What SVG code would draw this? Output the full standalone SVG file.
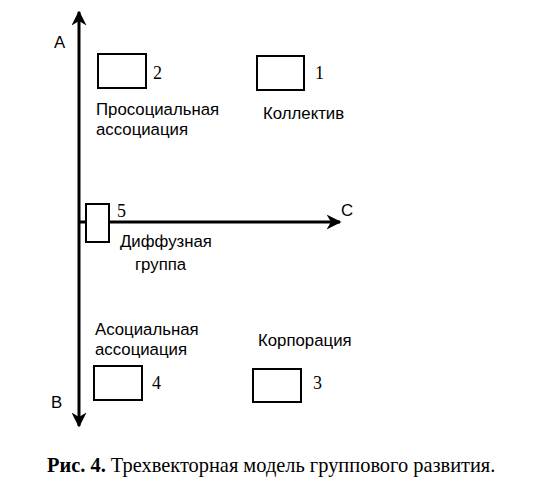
<svg xmlns="http://www.w3.org/2000/svg" width="552" height="479" viewBox="0 0 552 479">
<style>
.box{fill:#fff;stroke:#000;stroke-width:2}
.ax{stroke:#000;stroke-width:3;fill:none}
.lb{font-family:"Liberation Sans",Arial,sans-serif;font-size:16.8px;fill:#000}
.nm{font-family:"Liberation Serif","Times New Roman",serif;font-size:18px;fill:#000}
.cap{font-family:"Liberation Serif","Times New Roman",serif;font-size:20.4px;fill:#000}
</style>
<defs>
<marker id="ah" viewBox="0 0 10 10" refX="9" refY="5" markerWidth="5" markerHeight="5" orient="auto" markerUnits="strokeWidth">
<path d="M0,0 L10,5 L0,10 L3,5 z" fill="#000"/>
</marker>
</defs>
<g id="connectors">
<line class="ax" x1="79" y1="222" x2="79" y2="12" marker-end="url(#ah)"/>
<line class="ax" x1="79" y1="222" x2="79" y2="426" marker-end="url(#ah)"/>
<line class="ax" x1="79" y1="222" x2="340" y2="222" marker-end="url(#ah)"/>
<text class="lb" x="54" y="48">A</text>
<text class="lb" x="51" y="408">B</text>
<text class="lb" x="341" y="216">C</text>
</g>
<g id="node2">
<rect class="box" x="98" y="54" width="48" height="34"/>
<text class="nm" x="153" y="79">2</text>
<text class="lb" x="96" y="115">Просоциальная</text>
<text class="lb" x="96" y="135">ассоциация</text>
</g>
<g id="node1">
<rect class="box" x="257" y="56" width="47" height="34"/>
<text class="nm" x="315" y="79">1</text>
<text class="lb" x="263" y="119">Коллектив</text>
</g>
<g id="node5">
<rect class="box" x="86" y="204" width="23" height="38"/>
<text class="nm" x="117" y="217">5</text>
<text class="lb" x="120" y="247">Диффузная</text>
<text class="lb" x="135" y="270">группа</text>
</g>
<g id="node4">
<rect class="box" x="94" y="366" width="48" height="34"/>
<text class="nm" x="152" y="389">4</text>
<text class="lb" x="95" y="335">Асоциальная</text>
<text class="lb" x="95" y="355">ассоциация</text>
</g>
<g id="node3">
<rect class="box" x="253" y="369" width="48" height="33"/>
<text class="nm" x="313" y="389">3</text>
<text class="lb" x="258" y="346">Корпорация</text>
</g>
<text class="cap" x="47" y="472"><tspan font-weight="bold">Рис. 4.</tspan> Трехвекторная модель группового развития.</text>
</svg>
